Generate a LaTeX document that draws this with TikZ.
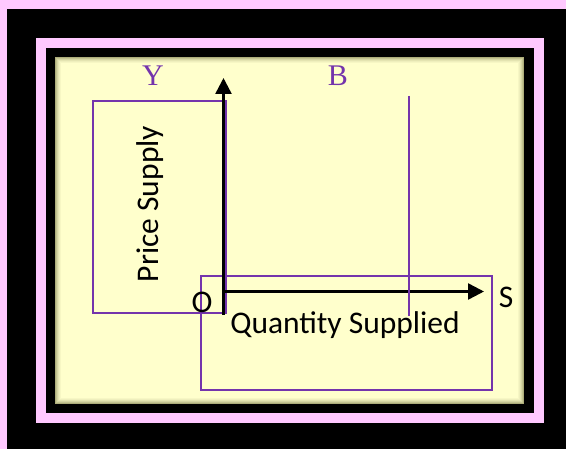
\documentclass[tikz,border=0pt]{standalone}
\usepackage{fontspec}
\setmainfont{Carlito}
\newfontfamily\lblfont{Liberation Serif}
\usetikzlibrary{positioning,calc,arrows.meta}
\definecolor{panelyellow}{HTML}{FFFFCC}
\definecolor{framepink}{HTML}{FFC9FF}
\definecolor{boxpurple}{HTML}{7434AC}
\definecolor{panelshadow}{HTML}{6B6B3A}

\begin{document}
\begin{tikzpicture}[x=1pt,y=-1pt,
				every node/.style={inner sep=0pt,outer sep=0pt},
				txt/.style={font=\fontsize{31.5}{34}\selectfont},
				axislbl/.style={font=\lblfont\fontsize{30}{32}\selectfont,text=boxpurple},
				box/.style={draw=boxpurple,line width=2.5pt},
				axis/.style={draw=black,line width=2.5pt,-{Triangle[length=16pt,width=16pt]}}]
				% frames
				\fill[black] (0,0) rectangle (566,449);
				\fill[framepink] (0,0) rectangle (566,9);
				\fill[framepink] (0,0) rectangle (7,449);
				\fill[framepink] (36,38) rectangle (544,423);
				\fill[black] (46,48) rectangle (534,413);
				\fill[panelyellow] (55,57) rectangle (524,404);
				\foreach \i/\o in {0/0.55,1/0.4,2/0.28,3/0.18,4/0.1,5/0.05}
					\draw[draw=panelshadow,draw opacity=\o,line width=1pt] (55.5+\i,57.5+\i) rectangle (523.5-\i,403.5-\i);

				\node[axislbl] (Ylbl) at (153,76) {Y};
				\node[axislbl] (Blbl) at (338,76) {B};
				\node[box,minimum width=133pt,minimum height=212pt] (pricebox) at (159.5,207) {};
				\node[txt,rotate=90] (pricetxt) at (150.5,204) {Price Supply};
				\node[box,minimum width=291pt,minimum height=114pt] (qtybox) at (346.5,333) {};
				\node[txt] (qtytxt) at (345,325) {Quantity Supplied};
				\node[txt] (O) at (202,302) {O};
				\node[txt] (S) at (506,297) {S};

				\coordinate (ybot) at (223.5,315);
				\coordinate (ytip) at (223.5,78);
				\coordinate (xstart) at (225,291.5);
				\coordinate (xtip) at (484,291.5);
				\coordinate (Btop) at (409,96);
				\coordinate (Bbot) at (409,316);

				\draw[axis] (ybot) -- (ytip);
				\draw[axis] (xstart) -- (xtip);
				\draw[boxpurple,line width=1.3pt] (Btop) -- (Bbot);
			\end{tikzpicture}
\end{document}
